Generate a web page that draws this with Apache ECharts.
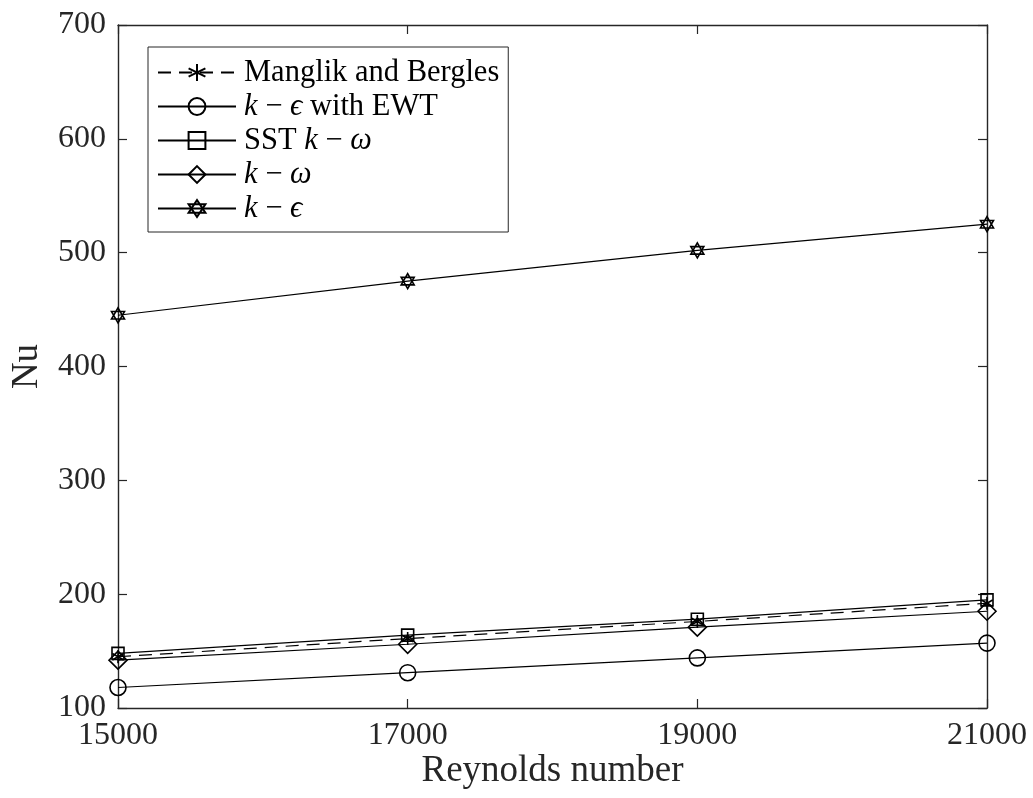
<!DOCTYPE html>
<html>
<head>
<meta charset="utf-8">
<script src="https://cdn.jsdelivr.net/npm/echarts@6/dist/echarts.min.js"></script>
<style>
html,body{margin:0;padding:0;background:#fff;}
#chart{width:1033px;height:798px;}
</style>
</head>
<body>
<div id="chart"></div>
<script>
// Data
const reynolds = [15000, 17000, 19000, 21000];
const manglik = [145, 161, 176, 192];
const kEpsEWT = [118, 131, 144, 157];
const sstKOmega = [148, 164, 178, 195];
const kOmega = [142, 156, 171, 185];
const kEps = [445, 475, 502, 525];
const seriesNames = ['Manglik and Bergles', 'k-eps EWT', 'SST k-omega', 'k-omega', 'k-eps'];
const legendLabels = [
  'Manglik and Bergles',
  '{i|k} − {i|ϵ} with EWT',
  'SST {i|k} − {i|ω}',
  '{i|k} − {i|ω}',
  '{i|k} − {i|ϵ}'
];
const xTicks = [15000, 17000, 19000, 21000];

const FONT = 'Liberation Serif';
const AX = '#262626';

const asteriskPath = 'path://M10 0 L10 20 M1.3 5 L18.7 15 M18.7 5 L1.3 15 M10 0 Z';
const hexagramPath = 'path://M10 0 L18.66 15 L1.34 15 Z M10 20 L1.34 5 L18.66 5 Z';

function pairs(vals) { return reynolds.map((x, i) => [x, vals[i]]); }

function mk(name, vals, symbol, size, dashed) {
  return {
    name: name,
    type: 'line',
    xAxisIndex: 0, yAxisIndex: 0,
    data: pairs(vals),
    symbol: symbol,
    symbolSize: size,
    symbolKeepAspect: true,
    showSymbol: true,
    animation: false,
    lineStyle: { color: '#000', width: 1.2, type: dashed ? [13, 8] : 'solid' },
    itemStyle: { color: 'rgba(255,255,255,0)', borderColor: '#000', borderWidth: 1.6 },
    emphasis: { disabled: true }
  };
}

const chart = echarts.init(document.getElementById('chart'));
const axisCommon = {
  axisLine: { show: true, lineStyle: { color: AX, width: 1.4 } },
  axisTick: { show: true, inside: true, length: 9, lineStyle: { color: AX, width: 1.2 } },
  splitLine: { show: false }
};
chart.setOption({
  animation: false,
  backgroundColor: '#fff',
  grid: { left: 118, right: 46, top: 25, bottom: 90, containLabel: false, outerBoundsMode: 'none' },
  legend: {
    data: seriesNames,
    orient: 'vertical',
    left: 148, top: 47,
    padding: [10, 9, 8, 9],
    itemGap: 3,
    itemWidth: 78,
    itemHeight: 21,
    backgroundColor: '#fff',
    borderColor: AX,
    borderWidth: 1,
    borderRadius: 0,
    selectedMode: false,
    formatter: function (name) { return legendLabels[seriesNames.indexOf(name)]; },
    textStyle: {
      fontFamily: FONT, fontSize: 30.5, color: '#000', padding: [0, 0, 0, 3],
      rich: { i: { fontFamily: FONT, fontSize: 30.5, fontStyle: 'italic', color: '#000' } }
    }
  },
  xAxis: [
    Object.assign({
      type: 'value', position: 'bottom', min: 15000, max: 21000, interval: 2000,
      name: 'Reynolds number', nameLocation: 'middle', nameGap: 45, nameMoveOverlap: false,
      nameTextStyle: { fontFamily: FONT, fontSize: 37, color: '#262626' },
      axisLabel: { show: true, margin: 12, fontFamily: FONT, fontSize: 32, color: '#262626',
        formatter: function (v) { return xTicks.indexOf(v) >= 0 ? String(v) : ''; } }
    }, axisCommon),
    Object.assign({
      type: 'value', position: 'top', min: 15000, max: 21000, interval: 2000,
      axisLabel: { show: false }
    }, axisCommon)
  ],
  yAxis: [
    Object.assign({
      type: 'value', position: 'left', min: 100, max: 700, interval: 100,
      name: 'Nu', nameLocation: 'middle', nameGap: 72, nameMoveOverlap: false,
      nameTextStyle: { fontFamily: FONT, fontSize: 37, color: '#262626' },
      axisLabel: { show: true, margin: 12, fontFamily: FONT, fontSize: 32, color: '#262626' }
    }, axisCommon),
    Object.assign({
      type: 'value', position: 'right', min: 100, max: 700, interval: 100,
      axisLabel: { show: false }
    }, axisCommon)
  ],
  series: [
    mk(seriesNames[0], manglik, asteriskPath, 13, true),
    mk(seriesNames[1], kEpsEWT, 'circle', 16, false),
    mk(seriesNames[2], sstKOmega, 'rect', 12, false),
    mk(seriesNames[3], kOmega, 'diamond', 18, false),
    mk(seriesNames[4], kEps, hexagramPath, 15, false)
  ]
});
</script>
</body>
</html>
